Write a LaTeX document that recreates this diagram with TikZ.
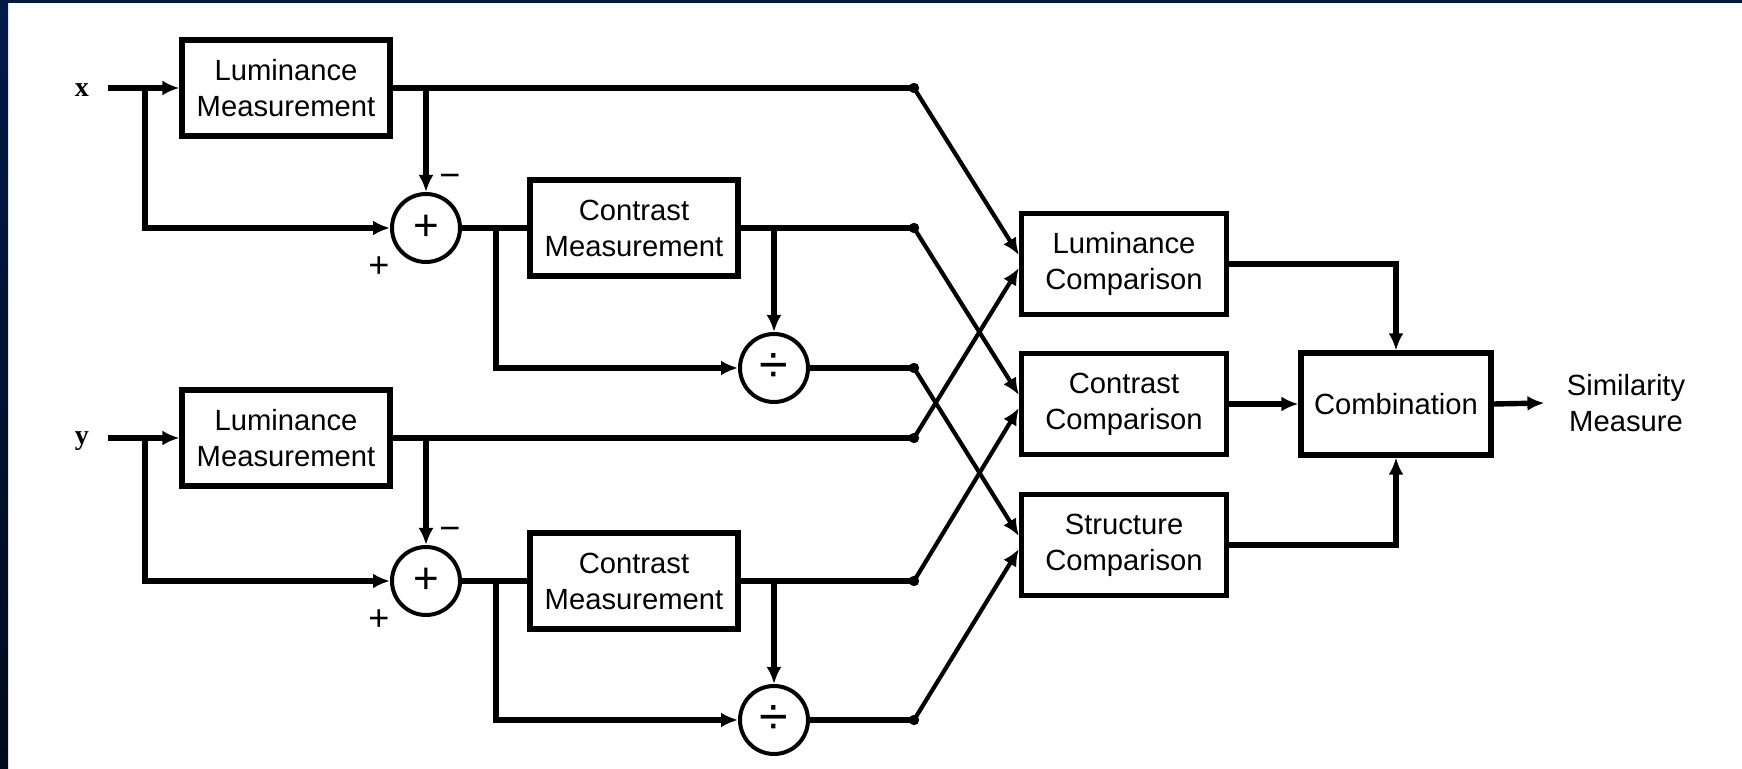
\documentclass[tikz,border=0pt]{standalone}
\usepackage{fontspec}
\setmainfont{Liberation Sans}
\newfontfamily\lblfont{Liberation Serif}
\usetikzlibrary{arrows.meta}
\definecolor{navytop}{RGB}{0,26,74}
\definecolor{navybot}{RGB}{0,10,26}
\tikzset{
  every node/.style={font=\fontsize{14.6pt}{18pt}\selectfont},
  blk/.style={draw, line width=2.6pt, align=center, inner sep=0pt,
              minimum width=104pt, minimum height=48pt},
  cmpbox/.style={blk, minimum width=102.5pt, minimum height=50.5pt},
  junc/.style={draw, circle, line width=2pt, minimum size=34pt, inner sep=0pt,
               font=\fontsize{22pt}{22pt}\selectfont},
  wire/.style={line width=2.7pt},
  slimwire/.style={line width=2.1pt},
  arrowed/.style={-{Latex[length=8.5pt,width=7.5pt]}},
  signlbl/.style={inner sep=0pt, font=\fontsize{18pt}{18pt}\selectfont},
  varlbl/.style={font=\lblfont\bfseries\fontsize{14pt}{14pt}\selectfont,
                 anchor=base, inner sep=0pt},
}
\begin{document}
\begin{tikzpicture}[x=0.5pt,y=-0.5pt]
\useasboundingbox (0,0) rectangle (1742,769);
% page background and dark frame strips
\fill[white] (0,0) rectangle (1742,769);
\shade[top color=navytop, bottom color=navybot] (0,0) rectangle (8,769);
\fill[navytop] (0,0) rectangle (1742,3);

% blocks
\node[blk] (lmx) at (286,88) {Luminance\\Measurement};
\node[blk] (lmy) at (286,438) {Luminance\\Measurement};
\node[junc] (sx) at (426,228) {+};
\node[junc] (sy) at (426,581) {+};
\node[blk] (cmx) at (634,228) {Contrast\\Measurement};
\node[blk] (cmy) at (634,581) {Contrast\\Measurement};
\node[junc, font=\fontsize{26pt}{26pt}\selectfont] (vx) at (774,368) {÷};
\node[junc, font=\fontsize{26pt}{26pt}\selectfont] (vy) at (774,720) {÷};
\node[cmpbox] (lc) at (1124,264) {Luminance\\Comparison};
\node[cmpbox] (cc) at (1124,404) {Contrast\\Comparison};
\node[cmpbox] (sc) at (1124,545) {Structure\\Comparison};
\node[blk, minimum width=95pt, minimum height=51pt] (cb) at (1396,404) {Combination};
\node[align=center, inner xsep=11pt, inner ysep=0pt] (sim) at (1626,403) {Similarity\\Measure};

% input labels and signs
\node[varlbl] (xl) at (82,97) {x};
\node[varlbl] (yl) at (82,445) {y};
\node[signlbl] (mx) at (450,181) {−};
\node[signlbl] (px) at (379,267) {+};
\node[signlbl] (my) at (450,534) {−};
\node[signlbl] (py) at (379,620) {+};

% branch points and junction dots
\coordinate (xs) at (108,88);
\coordinate (xb) at (145,88);
\coordinate (ys) at (108,438);
\coordinate (yb) at (145,438);
\coordinate (lbx) at (sx |- lmx);
\coordinate (lby) at (sy |- lmy);
\coordinate (cbx) at (496,228);
\coordinate (cby) at (496,581);
\coordinate (dbx) at (vx |- cmx);
\coordinate (dby) at (vy |- cmy);
\coordinate (dlx) at (914,88);
\coordinate (dcx) at (914,228);
\coordinate (dsx) at (914,368);
\coordinate (dly) at (914,438);
\coordinate (dcy) at (914,581);
\coordinate (dsy) at (914,720);

% x branch
\draw[wire,arrowed] (xs) -- (lmx.west);
\draw[wire,arrowed] (xb) |- (sx.west);
\draw[wire] (lmx.east) -- (dlx);
\draw[wire,arrowed] (lbx) -- (sx.north);
\draw[wire] (sx.east) -- (cmx.west);
\draw[wire,arrowed] (cbx) |- (vx.west);
\draw[wire] (cmx.east) -- (dcx);
\draw[wire,arrowed] (dbx) -- (vx.north);
\draw[wire] (vx.east) -- (dsx);

% y branch
\draw[wire,arrowed] (ys) -- (lmy.west);
\draw[wire,arrowed] (yb) |- (sy.west);
\draw[wire] (lmy.east) -- (dly);
\draw[wire,arrowed] (lby) -- (sy.north);
\draw[wire] (sy.east) -- (cmy.west);
\draw[wire,arrowed] (cby) |- (vy.west);
\draw[wire] (cmy.east) -- (dcy);
\draw[wire,arrowed] (dby) -- (vy.north);
\draw[wire] (vy.east) -- (dsy);

% junction dots
\foreach \d in {dlx,dcx,dsx,dly,dcy,dsy} \fill (\d) circle (2.6pt);

% crossing wires into the comparison stages
\draw[slimwire,arrowed] (dlx) -- ([yshift=4.5pt]lc.west);
\draw[slimwire,arrowed] (dly) -- ([yshift=-2pt]lc.west);
\draw[slimwire,arrowed] (dcx) -- ([yshift=4.5pt]cc.west);
\draw[slimwire,arrowed] (dcy) -- ([yshift=-2pt]cc.west);
\draw[slimwire,arrowed] (dsx) -- ([yshift=4.5pt]sc.west);
\draw[slimwire,arrowed] (dsy) -- ([yshift=-2pt]sc.west);

% combination stage
\draw[wire,arrowed] (lc.east) -| (cb.north);
\draw[wire,arrowed] (cc.east) -- (cb.west);
\draw[wire,arrowed] (sc.east) -| (cb.south);
\draw[wire,arrowed] (cb.east) -- (sim.west);
\end{tikzpicture}
\end{document}
